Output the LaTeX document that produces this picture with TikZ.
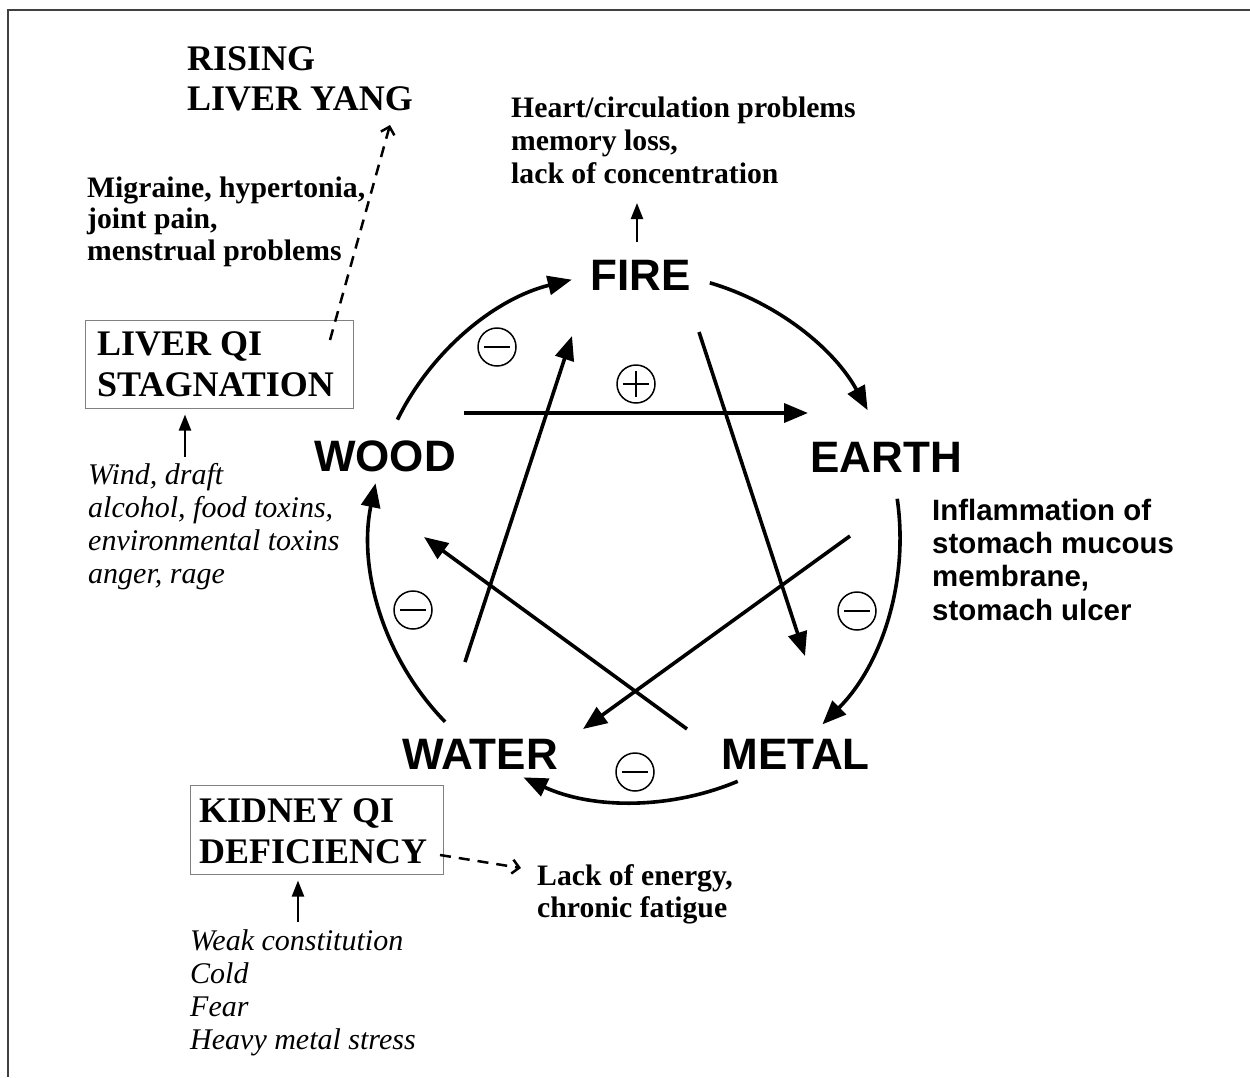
\documentclass[tikz,border=0pt]{standalone}
\usepackage{fontspec}
\setmainfont{Liberation Serif}
\newfontfamily\hsans{Liberation Sans}
\usetikzlibrary{arrows.meta,calc}
\tikzset{
  elem/.style={font=\hsans\bfseries\fontsize{44}{48}\selectfont, inner sep=0pt, anchor=base},
  titletxt/.style={font=\bfseries\fontsize{36}{40}\selectfont, align=left, inner sep=0pt, anchor=base west},
  btxt/.style={font=\bfseries\fontsize{29.7}{33}\selectfont, align=left, inner sep=0pt, anchor=base west},
  stxt/.style={font=\hsans\bfseries\fontsize{29.4}{33.3}\selectfont, align=left, inner sep=0pt, anchor=base west},
  itxt/.style={font=\itshape\fontsize{30}{33}\selectfont, align=left, inner sep=0pt, anchor=base west},
  boxed/.style={draw=black!50, line width=1pt, inner sep=0pt},
  cyc/.style={line width=3.6pt, -{Triangle[length=24pt,width=19pt]}},
  smallarr/.style={line width=2.2pt, -{Triangle[length=16pt,width=12pt]}},
  dasharr/.style={line width=2.5pt, dash pattern=on 11pt off 8pt, -{Straight Barb[length=7pt,width=14pt]}},
  signm/.style={circle, draw, line width=1.5pt, minimum size=38pt, inner sep=0pt,
    path picture={\draw[line width=2pt] ([xshift=-13pt]path picture bounding box.center) -- ([xshift=13pt]path picture bounding box.center);}},
  signp/.style={circle, draw, line width=1.5pt, minimum size=38pt, inner sep=0pt,
    path picture={\draw[line width=2pt] ([xshift=-13pt]path picture bounding box.center) -- ([xshift=13pt]path picture bounding box.center)
      ([yshift=-13pt]path picture bounding box.center) -- ([yshift=13pt]path picture bounding box.center);}}
}
\begin{document}
\begin{tikzpicture}[x=1pt,y=1pt]
\useasboundingbox (0,0) rectangle (1250,-1077);
\fill[white] (0,0) rectangle (1250,-1077);
% frame
\draw[line width=2pt, black!75] (8,-1077) -- (8,-10) -- (1250,-10);

% element labels
\node[elem] (fire)  at (640.5,-290) {FIRE};
\node[elem] (wood)  at (385,-471)   {WOOD};
\node[elem] (earth) at (886,-472)   {EARTH};
\node[elem] (water) at (480,-769)   {WATER};
\node[elem] (metal) at (795.5,-769) {METAL};

% texts (anchor = baseline of the last line)
\node[titletxt] (rising) at (187,-110) {RISING\\LIVER YANG};
\node[btxt, font=\bfseries\fontsize{29.7}{31.5}\selectfont] (migraine) at (87,-260) {Migraine, hypertonia,\\joint pain,\\menstrual problems};
\node[btxt] (heart) at (511,-183) {Heart/circulation problems\\memory loss,\\lack of concentration};
\node[stxt] (stomach) at (932,-620) {Inflammation of\\stomach mucous\\membrane,\\stomach ulcer};
\node[boxed, minimum width=268pt, minimum height=88pt] (liverbox) at (219,-364) {};
\node[titletxt, font=\bfseries\fontsize{36}{41}\selectfont] (livertxt) at (97,-396) {LIVER QI\\STAGNATION};
\node[itxt] (wind) at (88,-583) {Wind, draft\\alcohol, food toxins,\\environmental toxins\\anger, rage};
\node[boxed, minimum width=253pt, minimum height=89pt] (kidneybox) at (316.5,-829.5) {};
\node[titletxt, font=\bfseries\fontsize{36}{41}\selectfont] (kidneytxt) at (199,-863) {KIDNEY QI\\DEFICIENCY};
\node[btxt, font=\bfseries\fontsize{29.7}{32}\selectfont] (lack) at (537,-917) {Lack of energy,\\chronic fatigue};
\node[itxt] (weak) at (190,-1049) {Weak constitution\\Cold\\Fear\\Heavy metal stress};

% circle of the cycle
\coordinate (O) at (635,-537);
\coordinate (wf) at ($(O)+(153.7:265)$);
\coordinate (fe) at ($(O)+(73.6:265)$);
\coordinate (em) at ($(O)+(8.3:265)$);
\coordinate (mw) at ($(O)+(-67.2:265)$);
\coordinate (ww) at ($(O)+(224.2:265)$);
\draw[cyc] (wf) arc[start angle=153.7, end angle=103.8, radius=265];
\draw[cyc] (fe) arc[start angle=73.6, end angle=28.6, radius=265];
\draw[cyc] (em) arc[start angle=8.3, end angle=-45, radius=265];
\draw[cyc] (mw) arc[start angle=-67.2, end angle=-114.9, radius=265];
\draw[cyc] (ww) arc[start angle=224.2, end angle=168.3, radius=265];

% star connectors
\coordinate (s1a) at (464,-413); \coordinate (s1b) at (808,-413);
\coordinate (s2a) at (465,-662); \coordinate (s2b) at (572,-336);
\coordinate (s3a) at (699,-332); \coordinate (s3b) at (805,-656);
\coordinate (s4a) at (850,-536); \coordinate (s4b) at (583,-729);
\coordinate (s5a) at (687,-729); \coordinate (s5b) at (424,-537);
\draw[cyc] (s1a) -- (s1b);
\draw[cyc] (s2a) -- (s2b);
\draw[cyc] (s3a) -- (s3b);
\draw[cyc] (s4a) -- (s4b);
\draw[cyc] (s5a) -- (s5b);

% signs
\node[signm] (m1) at (497,-347) {};
\node[signp] (p1) at (636,-384) {};
\node[signm] (m2) at (857,-611) {};
\node[signm] (m3) at (413,-610) {};
\node[signm] (m4) at (635,-772) {};

% small arrows
\coordinate (fa) at (637,-242); \coordinate (fb) at (637,-203);
\draw[smallarr] (fa) -- (fb);
\coordinate (la) at (185,-457);
\draw[smallarr] (la) -- ([yshift=-6pt]liverbox.south -| la);
\coordinate (ka) at (298,-922);
\draw[smallarr] (ka) -- ([yshift=-6pt]kidneybox.south -| ka);

% dashed arrows
\coordinate (da) at (330,-340); \coordinate (db) at (390,-125);
\draw[dasharr] (da) -- (db);
\coordinate (dc) at (440,-855); \coordinate (dd) at (521,-868);
\draw[dasharr] (dc) -- (dd);
\end{tikzpicture}
\end{document}
